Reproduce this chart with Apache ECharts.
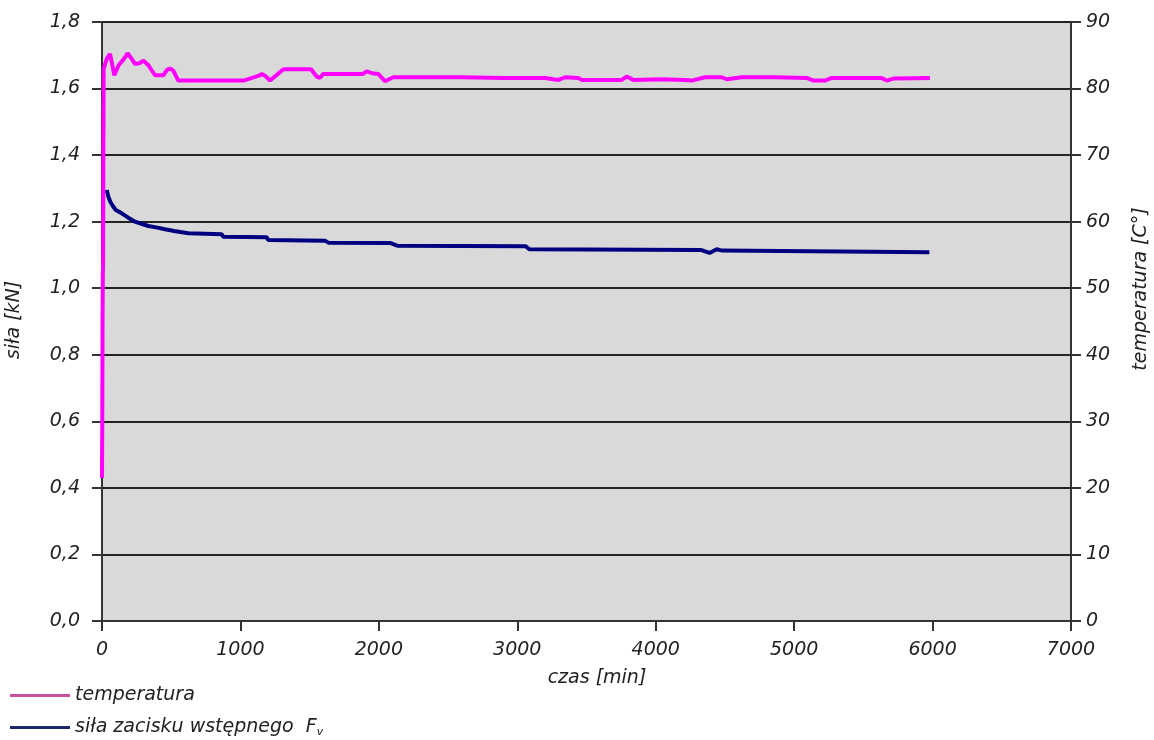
<!DOCTYPE html>
<html>
<head>
<meta charset="utf-8">
<script src="https://cdn.jsdelivr.net/npm/echarts@6/dist/echarts.min.js"></script>
<style>
html,body{margin:0;padding:0;background:#fff;}
#chart{width:1154px;height:740px;}
</style>
</head>
<body>
<div id="chart"></div>
<script>
// ---- data ----
const tempTime = [0, 2, 4, 6, 8, 10, 12, 35, 58, 75, 89, 120, 160, 185, 210, 238, 270, 299, 335, 383, 443, 470, 491, 515, 551, 1021, 1033, 1129, 1154, 1180, 1214, 1260, 1310, 1510, 1551, 1575, 1597, 1886, 1912, 1950, 1996, 2044, 2104, 2600, 2900, 3200, 3297, 3345, 3441, 3465, 3754, 3790, 3838, 4043, 4212, 4260, 4356, 4477, 4513, 4621, 4862, 5091, 5139, 5223, 5271, 5632, 5669, 5717, 5981];
const tempValues = [21.5, 30, 45, 52, 54, 70, 83, 84.5, 85.2, 83.5, 82.0, 83.5, 84.5, 85.3, 84.6, 83.7, 83.8, 84.2, 83.5, 82.0, 82.0, 82.8, 83.0, 82.7, 81.2, 81.2, 81.5, 81.9, 82.2, 81.9, 81.2, 82.0, 82.9, 82.9, 81.8, 81.6, 82.2, 82.2, 82.6, 82.3, 82.2, 81.1, 81.7, 81.7, 81.6, 81.6, 81.3, 81.7, 81.6, 81.3, 81.3, 81.8, 81.3, 81.4, 81.3, 81.2, 81.7, 81.7, 81.4, 81.7, 81.7, 81.6, 81.2, 81.2, 81.6, 81.6, 81.2, 81.5, 81.6];
const forceTime = [34, 46, 60, 82, 100, 142, 190, 238, 290, 335, 400, 455, 520, 624, 865, 876, 1190, 1201, 1611, 1635, 2081, 2132, 3061, 3087, 4325, 4389, 4441, 4479, 5977];
const forceValues = [1.295, 1.275, 1.26, 1.245, 1.235, 1.225, 1.212, 1.200, 1.193, 1.187, 1.182, 1.177, 1.172, 1.165, 1.162, 1.155, 1.153, 1.145, 1.143, 1.137, 1.136, 1.128, 1.126, 1.117, 1.115, 1.106, 1.117, 1.113, 1.108];
const forceTicks = {min: 0, max: 1.8, interval: 0.2};
const tempTicks = {min: 0, max: 90, interval: 10};
const timeTicks = {min: 0, max: 7000, interval: 1000};
const nameTemp = 'temperatura';
const nameForce = 'siła zacisku wstępnego Fv';
const labelForceAxis = 'siła [kN]';
const labelTempAxis = 'temperatura [C°]';
const labelTimeAxis = 'czas [min]';

// ---- chart ----
const FONT = 'DejaVu Sans';
const txt = {fontFamily: FONT, fontStyle: 'italic', fontWeight: 200, fontSize: 19, color: '#222'};
const axisLine = {show: true, lineStyle: {color: '#333', width: 2}};
const axisTick = {show: true, length: 10, lineStyle: {color: '#333', width: 2}};

const chart = echarts.init(document.getElementById('chart'), null, {renderer: 'canvas'});
const zip = (a, b) => a.map((v, i) => [v, b[i]]);

chart.setOption({
  animation: false,
  grid: {left: 102, right: 83, top: 22, bottom: 119, show: true, backgroundColor: '#d9d9d9', borderWidth: 0},
  xAxis: {
    type: 'value', min: timeTicks.min, max: timeTicks.max, interval: timeTicks.interval,
    axisLine: axisLine, axisTick: axisTick, splitLine: {show: false},
    axisLabel: Object.assign({margin: 20, formatter: v => String(v)}, txt)
  },
  yAxis: [{
    type: 'value', position: 'left', min: forceTicks.min, max: forceTicks.max, interval: forceTicks.interval,
    axisLine: axisLine, axisTick: axisTick,
    splitLine: {show: true, lineStyle: {color: '#222', width: 2}},
    axisLabel: Object.assign({margin: 22, formatter: v => v.toFixed(1).replace('.', ',')}, txt)
  }, {
    type: 'value', position: 'right', min: tempTicks.min, max: tempTicks.max, interval: tempTicks.interval,
    axisLine: axisLine, axisTick: axisTick, splitLine: {show: false},
    axisLabel: Object.assign({margin: 15, formatter: v => String(v)}, txt)
  }],
  legend: {
    orient: 'vertical', left: 10, top: 686, height: 120, padding: 0,
    itemWidth: 60, itemHeight: 3, itemGap: 13, icon: 'rect',
    selectedMode: false,
    data: [{name: nameTemp, itemStyle: {color: '#c4509e'}}, {name: nameForce, itemStyle: {color: '#1c2868'}}],
    formatter: n => n === nameTemp ? '{a|' + nameTemp + '}' : '{a|siła zacisku wstępnego  F}{s|v}',
    textStyle: {
      rich: {
        a: Object.assign({}, txt, {fontSize: 19, lineHeight: 20}),
        s: Object.assign({}, txt, {fontSize: 11, lineHeight: 20, verticalAlign: 'bottom'})
      }
    }
  },
  graphic: [
    {type: 'text', x: 14, y: 320, rotation: Math.PI / 2,
      style: {text: labelForceAxis, align: 'center', verticalAlign: 'middle', font: 'italic 200 19px "DejaVu Sans"', fill: '#222'}},
    {type: 'text', x: 1141, y: 289, rotation: Math.PI / 2,
      style: {text: labelTempAxis, align: 'center', verticalAlign: 'middle', font: 'italic 200 19px "DejaVu Sans"', fill: '#222'}},
    {type: 'text', x: 597, y: 678,
      style: {text: labelTimeAxis, align: 'center', verticalAlign: 'middle', font: 'italic 200 19px "DejaVu Sans"', fill: '#222'}}
  ],
  series: [{
    name: nameTemp, type: 'line', yAxisIndex: 1, data: zip(tempTime, tempValues),
    showSymbol: false, symbol: 'none', lineStyle: {color: '#ff00ff', width: 4}, itemStyle: {color: '#ff00ff'}, z: 3
  }, {
    name: nameForce, type: 'line', yAxisIndex: 0, data: zip(forceTime, forceValues),
    showSymbol: false, symbol: 'none', lineStyle: {color: '#000080', width: 4}, itemStyle: {color: '#000080'}, z: 2
  }]
});
</script>
</body>
</html>
